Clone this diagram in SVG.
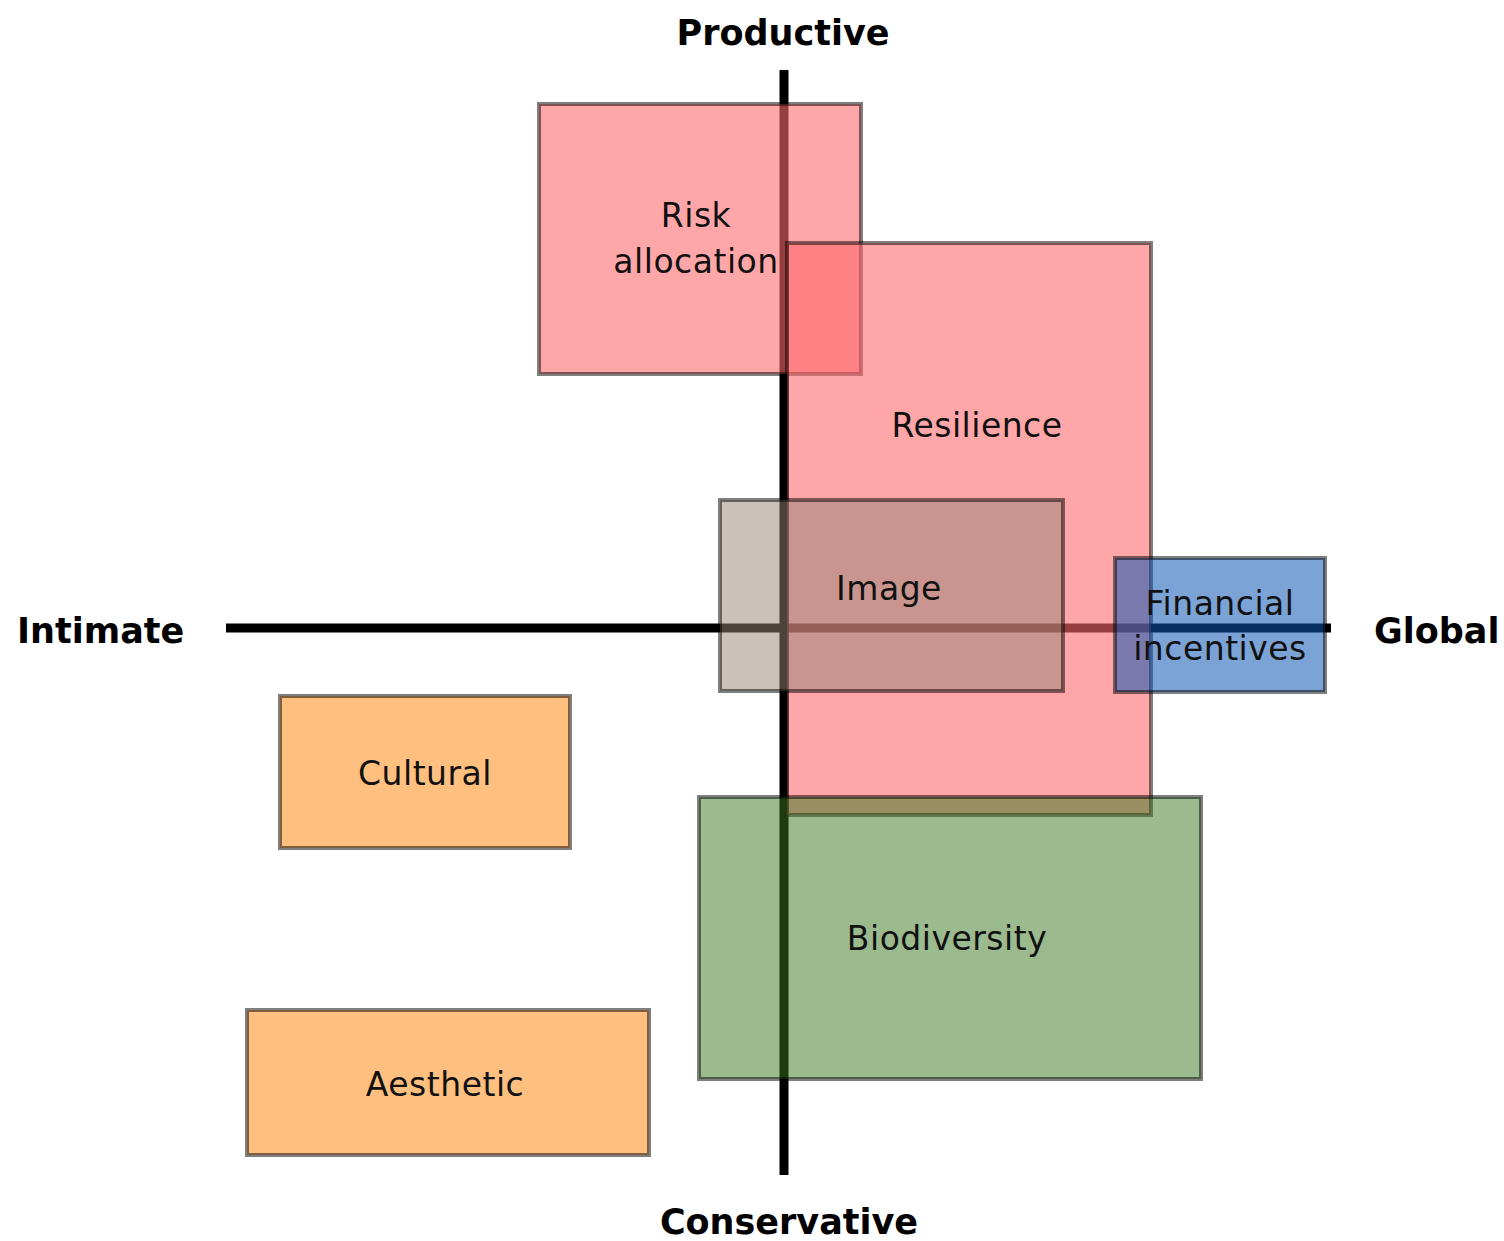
<svg xmlns="http://www.w3.org/2000/svg" width="1504" height="1241" viewBox="0 0 1504 1241">
<style>
.box{stroke:#000;stroke-opacity:0.5;stroke-width:4}
.pink{fill:#ff676b;fill-opacity:0.59}
.img{fill:#968473;fill-opacity:0.5}
.blue{fill:#0c55b3;fill-opacity:0.54}
.green{fill:#38761d;fill-opacity:0.5}
.orange{fill:#ff7f00;fill-opacity:0.5}
.lbl{font-family:"DejaVu Sans","Open Sans",sans-serif;font-size:33px;letter-spacing:0.5px;fill:#111;text-anchor:middle}
.axl{font-family:"DejaVu Sans","Open Sans",sans-serif;font-size:35px;font-weight:bold;fill:#000}
.axis{stroke:#000;stroke-width:9;fill:none}
</style>
<rect width="1504" height="1241" fill="#fff"/>
<g id="axes">
<line class="axis" x1="784" y1="70" x2="784" y2="1175"/>
<line class="axis" x1="226" y1="628" x2="1331" y2="628"/>
</g>
<g id="axis-labels">
<text class="axl" x="783" y="45" text-anchor="middle">Productive</text>
<text class="axl" x="789" y="1234" text-anchor="middle">Conservative</text>
<text class="axl" x="17" y="643">Intimate</text>
<text class="axl" x="1374" y="643">Global</text>
</g>
<g id="risk-allocation">
<rect class="box pink" x="539" y="104" width="322" height="270"/>
<text class="lbl" x="696" y="227">Risk</text>
<text class="lbl" x="696" y="273">allocation</text>
</g>
<g id="resilience">
<rect class="box pink" x="787" y="243" width="364" height="572"/>
<text class="lbl" x="977" y="437">Resilience</text>
</g>
<g id="image">
<rect class="box img" x="720" y="500" width="343" height="191"/>
<text class="lbl" x="889" y="600">Image</text>
</g>
<g id="financial-incentives">
<rect class="box blue" x="1115" y="558" width="210" height="134"/>
<text class="lbl" x="1220" y="615">Financial</text>
<text class="lbl" x="1220" y="660">incentives</text>
</g>
<g id="biodiversity">
<rect class="box green" x="699" y="797" width="502" height="282"/>
<text class="lbl" x="947" y="950">Biodiversity</text>
</g>
<g id="cultural">
<rect class="box orange" x="280" y="696" width="290" height="152"/>
<text class="lbl" x="425" y="785">Cultural</text>
</g>
<g id="aesthetic">
<rect class="box orange" x="247" y="1010" width="402" height="145"/>
<text class="lbl" x="445" y="1096">Aesthetic</text>
</g>
</svg>
